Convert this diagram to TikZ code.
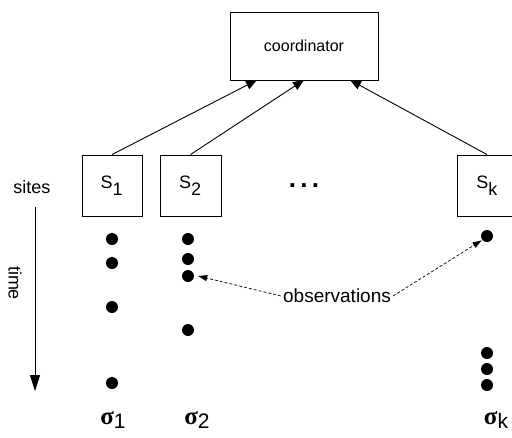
\documentclass[tikz,border=0pt]{standalone}
\usepackage{fontspec}
\setmainfont{Liberation Sans}
\newfontfamily\sigfont{Liberation Serif}
\usetikzlibrary{arrows.meta}
\begin{document}
\begin{tikzpicture}[x=1pt,y=-1pt,
  box/.style={draw,line width=0.9pt,inner sep=0pt},
  lbl/.style={font=\fontsize{18}{21}\selectfont,inner sep=0pt},
  obs/.style={circle,fill=black,inner sep=0pt,minimum size=12pt},
  link/.style={line width=0.9pt,-{Triangle[length=11pt,width=9pt]}},
  dlink/.style={line width=0.7pt,dashed,dash pattern=on 3pt off 2pt,-{Triangle[length=9pt,width=6pt]}},
  sig/.style={inner sep=0pt,font=\fontsize{25}{27}\selectfont}]
\useasboundingbox (0,0) rectangle (512,437);
\clip (0,0) rectangle (512,437);
\node[box,minimum width=148pt,minimum height=68pt,font=\fontsize{16}{19}\selectfont] (coord) at (304,46) {coordinator};
\node[box,minimum width=60pt,minimum height=61pt,lbl] (s1) at (112,185.5) {S$_{\textrm{1}}$};
\node[box,minimum width=61pt,minimum height=61pt,lbl] (s2) at (190.5,185.5) {S$_{\textrm{2}}$};
\node[box,minimum width=60pt,minimum height=61pt,lbl] (sk) at (487,185.5) {S$_{\textrm{k}}$};
\node[font=\fontsize{26}{28}\selectfont\bfseries,inner sep=0pt] (dots) at (304,186) {.\,.\,.};
\coordinate (c1) at (257,80);
\coordinate (c2) at (304,80);
\coordinate (c3) at (350,80);
\draw[link] (s1.north) -- (c1);
\draw[link] (s2.north) -- (c2);
\draw[link] (sk.north) -- (c3);
\node[lbl,anchor=east] (sites) at (50.5,187) {sites};
\coordinate (t0) at (35,207);
\coordinate (t1) at (35,391);
\draw[line width=0.9pt,-{Triangle[length=16pt,width=10pt]}] (t0) -- (t1);
\node[lbl,rotate=-90] (time) at (15,283) {time};
% observations
\node[obs] (a1) at (112,239) {};
\node[obs] (a2) at (112,263) {};
\node[obs] (a3) at (112,307) {};
\node[obs] (a4) at (112,383) {};
\node[obs] (b1) at (188,239) {};
\node[obs] (b2) at (188,259) {};
\node[obs] (b3) at (188,276) {};
\node[obs] (b4) at (188,330) {};
\node[obs] (k1) at (487,236) {};
\node[obs] (k2) at (487,353) {};
\node[obs] (k3) at (487,369) {};
\node[obs] (k4) at (487,385) {};
\node[lbl,font=\fontsize{19}{22}\selectfont] (obsl) at (337,296) {observations};
\draw[dlink] ([xshift=-2pt]obsl.west) -- ([xshift=4pt]b3.east);
\draw[dlink] ([xshift=2pt]obsl.east) -- ([xshift=-1pt]k1.south west);
% sigma labels
\node[sig] (sg1) at (113,420) {{\sigfont\bfseries σ}\raisebox{-4pt}{\fontsize{21}{23}\selectfont 1}};
\node[sig] (sg2) at (197,420) {{\sigfont\bfseries σ}\raisebox{-4pt}{\fontsize{21}{23}\selectfont 2}};
\node[sig] (sgk) at (496,420) {{\sigfont\bfseries σ}\raisebox{-4pt}{\fontsize{21}{23}\selectfont k}};
\end{tikzpicture}
\end{document}
